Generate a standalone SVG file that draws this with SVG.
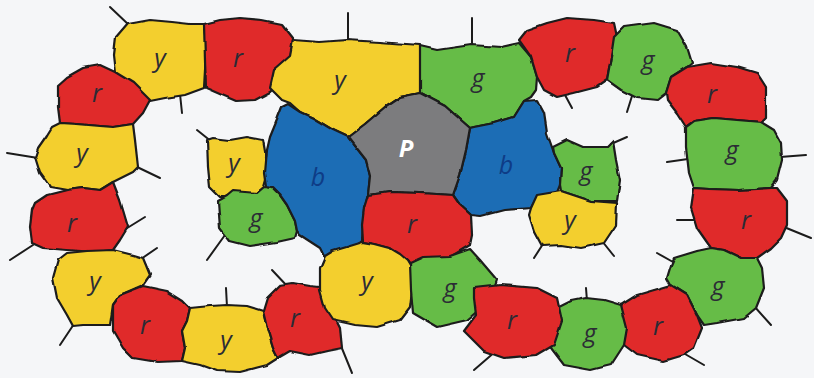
<svg xmlns="http://www.w3.org/2000/svg" width="814" height="378" viewBox="0 0 814 378">
  <defs>
    <style>
      .reg { stroke: #1b1b1b; stroke-width: 2.2; stroke-linejoin: round; }
      .y { fill: #f3cf2d; }
      .r { fill: #e0292a; }
      .g { fill: #66bc46; }
      .b { fill: #1d6db5; }
      .p { fill: #7b7b7e; }
      .tick { stroke: #1b1b1b; stroke-width: 2; stroke-linecap: round; fill: none; }
      .lbl { font-family: "Open Sans", "Noto Sans", "Liberation Sans", sans-serif; font-style: italic; font-size: 25px; fill: #2b2b35; text-anchor: middle; }
      .lb { fill: #0e3c86; }
      .lp { fill: #ffffff; font-weight: bold; font-size: 24px; }
    </style>
    <!-- slight hand-drawn wobble on the region outlines -->
    <filter id="wobble" x="-5%" y="-5%" width="110%" height="110%">
      <feTurbulence type="fractalNoise" baseFrequency="0.055" numOctaves="1" seed="3" result="n"/>
      <feDisplacementMap in="SourceGraphic" in2="n" scale="3.5" xChannelSelector="R" yChannelSelector="G"/>
    </filter>
  </defs>

  <rect width="814" height="378" fill="#f5f6f8"/>

  <!-- loose edge stubs, drawn under the regions -->
  <g id="stubs">
    <line class="tick" x1="110" y1="7" x2="130" y2="26"/>
    <line class="tick" x1="348" y1="13" x2="348" y2="42"/>
    <line class="tick" x1="180" y1="94" x2="182" y2="113"/>
    <line class="tick" x1="7" y1="153" x2="38" y2="158"/>
    <line class="tick" x1="135" y1="166" x2="160" y2="178"/>
    <line class="tick" x1="197" y1="130" x2="212" y2="142"/>
    <line class="tick" x1="124" y1="230" x2="145" y2="217"/>
    <line class="tick" x1="10" y1="260" x2="33" y2="245"/>
    <line class="tick" x1="141" y1="259" x2="157" y2="248"/>
    <line class="tick" x1="74" y1="324" x2="60" y2="345"/>
    <line class="tick" x1="227" y1="307" x2="226" y2="288"/>
    <line class="tick" x1="272" y1="270" x2="288" y2="287"/>
    <line class="tick" x1="341" y1="346" x2="352" y2="373"/>
    <line class="tick" x1="207" y1="260" x2="225" y2="235"/>
    <line class="tick" x1="472" y1="18" x2="472" y2="47"/>
    <line class="tick" x1="565" y1="95" x2="572" y2="108"/>
    <line class="tick" x1="632" y1="96" x2="627" y2="112"/>
    <line class="tick" x1="611" y1="144" x2="627" y2="137"/>
    <line class="tick" x1="667" y1="162" x2="688" y2="159"/>
    <line class="tick" x1="780" y1="157" x2="806" y2="155"/>
    <line class="tick" x1="677" y1="220" x2="695" y2="220"/>
    <line class="tick" x1="784" y1="227" x2="811" y2="238"/>
    <line class="tick" x1="657" y1="253" x2="673" y2="262"/>
    <line class="tick" x1="754" y1="306" x2="771" y2="325"/>
    <line class="tick" x1="685" y1="354" x2="704" y2="365"/>
    <line class="tick" x1="586" y1="288" x2="587" y2="301"/>
    <line class="tick" x1="496" y1="351" x2="474" y2="370"/>
    <line class="tick" x1="602" y1="241" x2="614" y2="256"/>
    <line class="tick" x1="543" y1="244" x2="534" y2="258"/>
  </g>

  <g id="map" filter="url(#wobble)">
    <!-- left ring -->
    <g id="ring-left-y1"><polygon class="reg y" points="116,38 128,24 150,20 172,22 190,24 204,24 206,45 205,70 204,88 185,95 165,98 150,101 132,86 116,73 114,55"/></g>
    <g id="ring-left-r1"><polygon class="reg r" points="204,24 220,20 240,18 262,20 282,24 293,38 292,60 282,80 270,92 255,100 236,101 222,95 206,88 205,60"/></g>
    <g id="ring-left-r2"><polygon class="reg r" points="58,85 67,77 83,68 100,65 115,72 133,83 150,100 143,113 133,124 113,127 100,126 77,124 60,123 58,107"/></g>
    <g id="ring-left-y2"><polygon class="reg y" points="35,157 38,148 47,135 52,127 60,123 77,124 100,126 113,127 133,124 135,140 138,167 133,172 113,182 100,190 83,188 67,190 50,187 40,173"/></g>
    <g id="ring-left-r3"><polygon class="reg r" points="32,210 35,203 47,195 67,190 83,188 100,190 113,182 120,200 128,227 120,240 113,250 97,252 67,250 43,248 32,243 30,227"/></g>
    <g id="ring-left-y3"><polygon class="reg y" points="53,278 58,260 67,253 87,251 113,250 133,255 143,258 150,275 143,285 120,295 113,305 110,325 83,325 73,326 67,315 57,298"/></g>
    <g id="ring-left-r4"><polygon class="reg r" points="113,305 120,295 143,286 167,291 183,301 190,308 187,321 182,331 185,348 182,361 157,362 133,358 123,348 113,331"/></g>
    <g id="ring-left-y4"><polygon class="reg y" points="190,308 210,306 227,305 247,306 263,311 267,328 273,348 278,358 267,365 240,372 217,371 200,365 182,361 185,348 182,331 187,321"/></g>
    <g id="ring-left-r5"><polygon class="reg r" points="263,311 267,298 280,285 293,283 310,286 320,287 330,308 340,328 342,348 327,351 310,355 290,351 278,358 273,348 267,328"/></g>

    <!-- inner left pair -->
    <g id="inner-left-y"><polygon class="reg y" points="207,140 213,138 230,140 247,137 263,140 266,157 268,173 264,187 257,193 240,197 220,197 210,187 208,167"/></g>
    <g id="inner-left-g"><polygon class="reg g" points="218,201 227,196 233,191 257,193 264,187 273,188 280,195 287,205 295,221 297,231 295,238 277,242 250,246 230,241 220,228"/></g>

    <!-- centre -->
    <g id="centre-top-y"><polygon class="reg y" points="293,40 320,42 347,40 380,42 405,44 420,45 421,70 420,93 400,97 385,107 365,124 348,137 333,130 313,118 300,112 290,103 282,100 270,88 274,70 290,56"/></g>
    <g id="centre-top-g"><polygon class="reg g" points="420,93 420,46 437,50 471,45 501,47 519,43 531,57 537,77 536,90 531,97 524,101 514,117 494,123 474,127 470,128 445,106"/></g>
    <g id="centre-left-b"><polygon class="reg b" points="288,104 300,112 313,118 333,130 348,137 366,160 370,176 368,195 364,210 362,241 353,248 333,253 325,258 320,248 300,235 297,231 295,221 287,205 280,195 273,188 267,187 265,173 267,150 270,137 277,120 282,107"/></g>
    <g id="centre-right-b"><polygon class="reg b" points="470,128 474,127 494,123 514,117 524,101 537,100 544,113 547,133 554,153 561,168 560,185 556,195 537,197 531,208 504,210 481,216 471,215 460,205 453,195 460,175 466,150"/></g>
    <g id="centre-p"><polygon class="reg p" points="348,137 365,124 385,107 400,97 420,93 445,106 470,128 466,150 460,175 453,195 420,193 390,192 368,195 370,176 366,160"/></g>
    <g id="centre-r"><polygon class="reg r" points="368,195 390,192 420,193 453,195 460,205 471,215 472,235 470,245 450,257 430,262 413,268 407,260 390,248 375,244 363,242 362,225 364,208"/></g>
    <g id="centre-bottom-y"><polygon class="reg y" points="320,268 325,256 333,251 350,246 363,242 375,244 390,248 400,254 407,260 413,270 412,290 410,307 400,320 377,327 355,325 333,320 325,308 320,290"/></g>
    <g id="centre-bottom-g"><polygon class="reg g" points="410,263 423,257 450,256 470,249 480,260 497,280 492,295 487,303 467,320 437,327 413,313 411,290"/></g>

    <!-- inner right pair -->
    <g id="inner-right-g"><polygon class="reg g" points="553,147 567,140 583,147 607,147 613,141 616,160 620,180 617,201 591,201 561,191 560,185 561,168 554,153"/></g>
    <g id="inner-right-y"><polygon class="reg y" points="537,195 561,191 591,201 617,203 616,225 604,243 581,248 561,245 542,246 534,231 529,215 531,208"/></g>

    <!-- right ring -->
    <g id="ring-right-r1"><polygon class="reg r" points="519,40 527,30 547,23 567,18 594,20 614,23 617,37 611,57 607,80 597,87 574,93 557,97 544,90 537,77 531,57"/></g>
    <g id="ring-right-g1"><polygon class="reg g" points="607,80 611,57 614,37 624,27 654,23 677,30 687,47 692,63 687,67 671,77 666,93 657,100 637,98 621,90"/></g>
    <g id="ring-right-r2"><polygon class="reg r" points="666,93 671,77 687,67 711,63 737,67 757,73 766,87 766,117 761,122 737,120 714,118 694,121 686,127 677,113 667,100"/></g>
    <g id="ring-right-g2"><polygon class="reg g" points="686,127 694,121 714,118 737,120 761,122 774,130 781,143 782,160 777,180 771,188 740,190 710,189 694,188 689,173 686,147"/></g>
    <g id="ring-right-r3"><polygon class="reg r" points="694,188 710,189 740,190 771,188 777,188 787,201 787,225 781,238 771,248 757,258 741,258 724,250 711,248 697,228 691,208"/></g>
    <g id="ring-right-g3"><polygon class="reg g" points="667,278 671,265 674,258 697,251 711,248 724,250 741,258 757,258 762,268 764,288 756,308 744,318 717,323 704,325 697,315 687,295 671,285"/></g>
    <g id="ring-right-r4"><polygon class="reg r" points="621,305 637,295 661,288 671,285 687,295 697,315 702,328 694,348 684,355 664,361 637,355 624,345"/></g>
    <g id="ring-right-g4"><polygon class="reg g" points="557,308 571,301 586,298 604,300 621,305 627,328 624,345 611,365 591,370 564,365 551,348 551,328"/></g>
    <g id="ring-right-r5"><polygon class="reg r" points="474,288 501,285 537,288 557,298 562,321 554,345 537,355 504,358 484,351 464,331 476,315 474,298"/></g>
  </g>

  <!-- region letters -->
  <g id="labels">
    <text class="lbl" x="160" y="67">y</text>
    <text class="lbl" x="238" y="67">r</text>
    <text class="lbl" x="340" y="89">y</text>
    <text class="lbl" x="478" y="87">g</text>
    <text class="lbl lp" x="406" y="157">P</text>
    <text class="lbl lb" x="318" y="186">b</text>
    <text class="lbl lb" x="506" y="174">b</text>
    <text class="lbl" x="412" y="233">r</text>
    <text class="lbl" x="367" y="290">y</text>
    <text class="lbl" x="450" y="297">g</text>
    <text class="lbl" x="512" y="329">r</text>
    <text class="lbl" x="590" y="342">g</text>
    <text class="lbl" x="658" y="335">r</text>
    <text class="lbl" x="718" y="295">g</text>
    <text class="lbl" x="746" y="229">r</text>
    <text class="lbl" x="732" y="159">g</text>
    <text class="lbl" x="712" y="103">r</text>
    <text class="lbl" x="648" y="69">g</text>
    <text class="lbl" x="570" y="62">r</text>
    <text class="lbl" x="97" y="102">r</text>
    <text class="lbl" x="82" y="162">y</text>
    <text class="lbl" x="72" y="232">r</text>
    <text class="lbl" x="95" y="290">y</text>
    <text class="lbl" x="145" y="334">r</text>
    <text class="lbl" x="226" y="349">y</text>
    <text class="lbl" x="295" y="327">r</text>
    <text class="lbl" x="234" y="172">y</text>
    <text class="lbl" x="256" y="227">g</text>
    <text class="lbl" x="586" y="180">g</text>
    <text class="lbl" x="570" y="229">y</text>
  </g>
</svg>
